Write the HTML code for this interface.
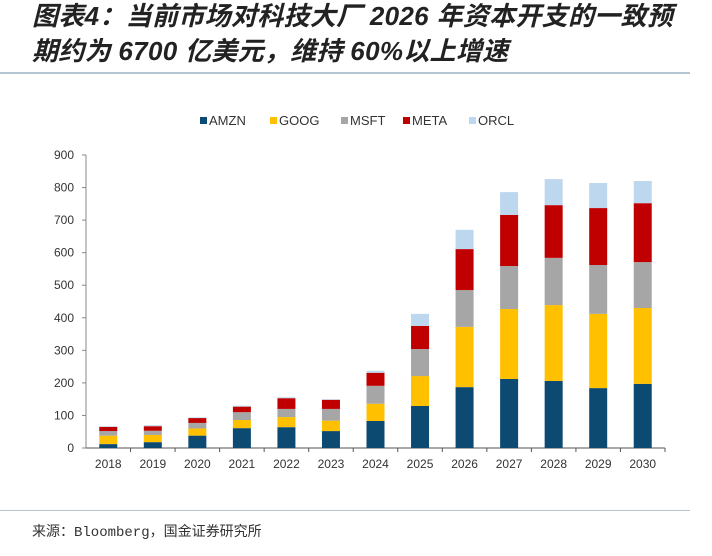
<!DOCTYPE html>
<html><head><meta charset="utf-8"><style>
body{margin:0;width:712px;height:556px;background:#fff;overflow:hidden;font-family:"Liberation Sans","Noto Sans CJK SC",sans-serif}
.t{position:absolute;left:32px;font-size:26px;line-height:32px;font-style:italic;font-weight:bold;color:#222;font-family:"Liberation Sans","Noto Sans CJK SC",sans-serif;white-space:nowrap;letter-spacing:0.3px}
</style></head><body>
<div class="t" style="top:0px">图表4：当前市场对科技大厂 2026 年资本开支的一致预</div>
<div class="t" style="top:35px">期约为 6700 亿美元，维持 60%以上增速</div>
<div style="position:absolute;left:0;top:72px;width:690px;height:2px;background:#b4c6d2"></div>
<div style="position:absolute;left:0;top:510px;width:690px;height:1px;background:#b4c6d2"></div>
<div style="position:absolute;left:32px;top:521px;font-size:14px;color:#333;font-family:'Liberation Mono','Noto Sans CJK SC',monospace">来源：Bloomberg，国金证券研究所</div>
<svg id="c" width="712" height="556" style="position:absolute;left:0;top:0"></svg>
<script>
const years=["2018","2019","2020","2021","2022","2023","2024","2025","2026","2027","2028","2029","2030"];
const seriesNames=["AMZN","GOOG","MSFT","META","ORCL"];
const amzn=[12,18,38,61,64,52,83,129,187,212,206,184,197];
const goog=[26,22,22,25,31,32,53,92,185,215,233,228,233];
const msft=[14,13,17,24,25,36,55,83,113,132,145,150,141];
const meta=[13,14,15,17,33,28,40,71,126,157,162,175,181];
const orcl=[2,3,2,3,3,2,6,37,59,70,80,77,68];
const yTicks=[0,100,200,300,400,500,600,700,800,900];
const colors=["#0d4a72","#ffc000","#a6a6a6","#c00000","#bdd7ee"];
const data=[amzn,goog,msft,meta,orcl];
const svg=document.getElementById('c');const NS='http://www.w3.org/2000/svg';
const L=86,R=665,T=155,B=448,ymax=900;
const y=v=>B-(v/ymax)*(B-T);
const step=(R-L)/years.length;
const x=i=>L+step*(i+0.5);
function mk(t,a){const e=document.createElementNS(NS,t);for(const k in a)e.setAttribute(k,a[k]);svg.appendChild(e);return e;}
yTicks.forEach(v=>{
 const tx=mk('text',{x:L-12,y:y(v)+4,'text-anchor':'end','font-size':12,fill:'#333'});tx.textContent=v;
 
 
});
const ax=mk('line',{x1:L,y1:T,x2:L,y2:B,stroke:'#888'});


yTicks.forEach(v=>{const l=mk('line',{x1:L-4,y1:y(v),x2:L,y2:y(v),stroke:'#888'});
 
 });
const xa=mk('line',{x1:L,y1:B,x2:R,y2:B,stroke:'#555'});


years.forEach((yr,i)=>{
 const tk=mk('line',{x1:L+step*(i+1),y1:B,x2:L+step*(i+1),y2:B+4,stroke:'#555'});
 
 
 let acc=0;
 data.forEach((s,j)=>{
  const r=mk('rect',{x:x(i)-9,y:y(acc+s[i]),width:18,height:y(acc)-y(acc+s[i]),fill:colors[j]});
  
  
  acc+=s[i];
 });
 const t=mk('text',{x:x(i),y:B+20,'text-anchor':'middle','font-size':12,fill:'#333'});t.textContent=yr;
 
 
});
const lx=[200,270,341,403,469];
seriesNames.forEach((n,j)=>{
 const r=mk('rect',{x:lx[j],y:117,width:7,height:7,fill:colors[j]});
 
 
 const t=mk('text',{x:lx[j]+9,y:125,'font-size':13,fill:'#333'});t.textContent=n;
 
 
});
</script>
</body></html>
